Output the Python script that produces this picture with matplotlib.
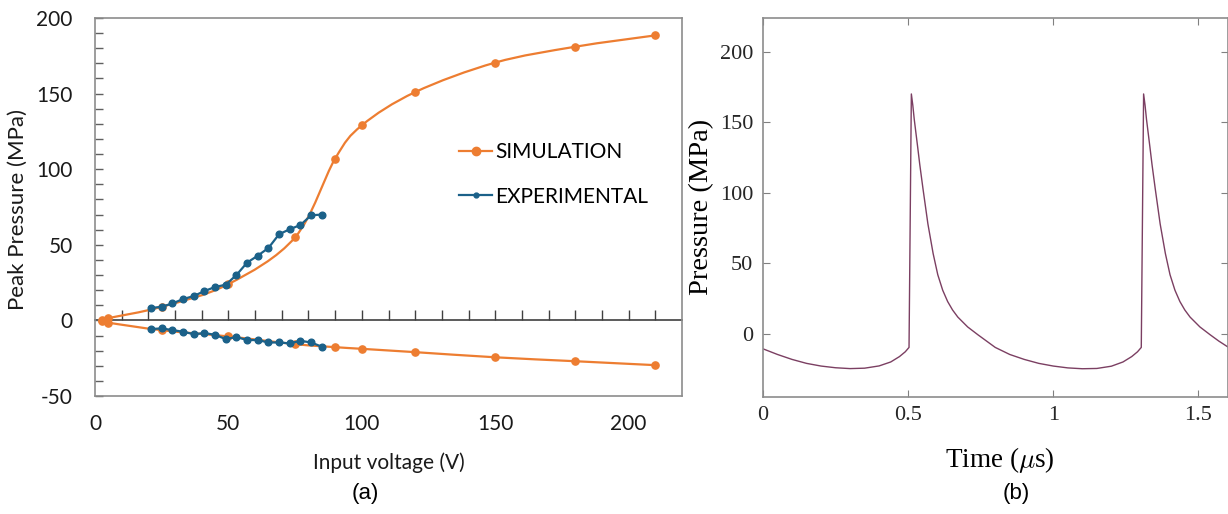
import numpy as np
import matplotlib
matplotlib.use('Agg')
from matplotlib import pyplot as plt
from matplotlib.path import Path
from matplotlib.patches import PathPatch
from matplotlib.lines import Line2D

plt.rcParams['axes.unicode_minus'] = False
plt.rcParams['mathtext.fontset'] = 'cm'

# (a) peak pressure vs input voltage
sim_v = [2.5, 5, 25, 50, 75, 90, 100, 120, 150, 180, 210]
sim_pos = [0.3, 1.5, 9, 24, 55, 107, 129, 151, 170.5, 181, 188.5]
sim_neg = [-0.3, -1.5, -6.5, -10.6, -15.7, -17.7, -18.8, -21, -24.4, -27, -29.6]
exp_v = [21, 25, 29, 33, 37, 41, 45, 49, 53, 57, 61, 65, 69, 73, 77, 81, 85]
exp_pos = [8.2, 9, 11.2, 14.1, 16.1, 19.4, 22.1, 23.6, 30, 38.2, 42.8, 47.9, 57, 60.3, 63.1, 69.5, 70]
exp_neg = [-5.7, -5.3, -6.4, -7.5, -9.1, -8.4, -9.5, -12.4, -11, -13, -13, -14.6, -14.6, -15.2, -13.5, -14.6, -17.4]

# (b) pressure waveform
t_us = [0.000, 0.050, 0.100, 0.150, 0.200, 0.250, 0.300, 0.350, 0.400, 0.440, 0.470, 0.490, 0.503,
        0.511, 0.516, 0.521, 0.527, 0.533, 0.540, 0.551, 0.568, 0.586, 0.602, 0.619, 0.636, 0.653,
        0.671, 0.705, 0.740, 0.770, 0.800,
        0.850, 0.900, 0.950, 1.000, 1.050, 1.100, 1.150, 1.200, 1.240, 1.270, 1.290, 1.303,
        1.311, 1.316, 1.321, 1.327, 1.333, 1.340, 1.351, 1.368, 1.386, 1.402, 1.419, 1.436, 1.453,
        1.471, 1.505, 1.540, 1.570, 1.600]
p_mpa = [-10.5, -14.5, -18.0, -20.8, -22.7, -23.9, -24.5, -24.2, -22.6, -19.8, -16.0, -12.6, -9.5,
         170, 162, 152, 142, 132, 120, 103, 78, 57, 42, 31, 23, 17,
         12, 5, -0.5, -5.0, -9.5,
         -14.5, -18.0, -20.8, -22.7, -24.0, -24.6, -24.4, -22.8, -19.8, -16.0, -12.6, -9.5,
         170, 162, 152, 142, 132, 120, 103, 78, 57, 42, 31, 23, 17,
         12, 5, -0.5, -5.0, -9.0]

ORANGE = '#ED7D31'
BLUE = '#1B6189'


def smooth_path(x, y):
    # excel style smoothed line: cubic bezier through every point
    pts = np.column_stack([x, y]).astype(float)
    n = len(pts)
    verts = [pts[0]]
    codes = [Path.MOVETO]
    for i in range(n - 1):
        p0 = pts[i - 1] if i > 0 else pts[i]
        p3 = pts[i + 2] if i + 2 < n else pts[i + 1]
        verts += [pts[i] + (pts[i + 1] - p0) / 6, pts[i + 1] - (p3 - pts[i]) / 6, pts[i + 1]]
        codes += [Path.CURVE4] * 3
    return Path(verts, codes)


W, H = 1228, 514
fig = plt.figure(figsize=(W / 100, H / 100), dpi=100)

# ---- (a)
sans = ['Lato', 'DejaVu Sans']
ax = fig.add_axes([95 / W, 1 - 396 / H, 587 / W, 378 / H])
ax.set_xlim(0, 220)
ax.set_ylim(-50, 200)
for s in ax.spines.values():
    s.set_color('#8c8c8c')
    s.set_linewidth(1.2)

for yy in (sim_pos, sim_neg):
    ax.add_patch(PathPatch(smooth_path(sim_v, yy), fill=False, edgecolor=ORANGE, lw=1.6, zorder=2))
    ax.plot(sim_v, yy, 'o', color=ORANGE, ms=5.2, zorder=3)
for yy in (exp_pos, exp_neg):
    ax.plot(exp_v, yy, '-o', color=BLUE, lw=1.6, ms=4.8, zorder=4)

ax.set_yticks([-50, 0, 50, 100, 150, 200])
ax.set_yticks(np.arange(-50, 201, 10), minor=True)
ax.tick_params(axis='y', which='both', direction='in', length=6, color='#606060', width=1,
               pad=16, labelsize=15, labelcolor='#1a1a1a')
ax.set_xticks([0, 50, 100, 150, 200])
ax.tick_params(axis='x', length=0, pad=13, labelsize=15, labelcolor='#1a1a1a')
for lab in ax.get_xticklabels() + ax.get_yticklabels():
    lab.set_family(sans)

zero = ax.secondary_xaxis(0, transform=ax.transData)
zero.set_xticks(np.arange(10, 220, 10))
zero.tick_params(direction='in', length=7, color='#404040', width=1, labelbottom=False)
zero.spines['bottom'].set_color('#404040')
zero.spines['bottom'].set_linewidth(1.2)

handles = [Line2D([], [], color=ORANGE, lw=1.6, marker='o', ms=6),
           Line2D([], [], color=BLUE, lw=1.6, marker='o', ms=3.5)]
ax.legend(handles, ['SIMULATION', 'EXPERIMENTAL'], loc='upper left',
          bbox_to_anchor=(0.62, 0.672), frameon=False, borderpad=0, borderaxespad=0,
          handlelength=1.6, handletextpad=0.15, labelspacing=1.18,
          prop={'family': sans, 'size': 15})

fig.text(18 / W, 1 - 210 / H, 'Peak Pressure (MPa)', rotation=90, ha='center', va='center',
         fontsize=16, family=sans, color='#1a1a1a')
fig.text(389 / W, 1 - 463 / H, 'Input voltage (V)', ha='center', va='center',
         fontsize=15, family=sans, color='#1a1a1a')
fig.text(365 / W, 1 - 494 / H, '(a)', ha='center', va='center', fontsize=16,
         family=['Liberation Sans', 'DejaVu Sans'])

# ---- (b)
serif = ['Liberation Serif', 'DejaVu Serif']
bx = fig.add_axes([763 / W, 1 - 396.7 / H, 464.5 / W, 379 / H])
bx.plot(t_us, p_mpa, color='#7b3f62', lw=1.0)
bx.set_xlim(0, 1.6)
bx.set_ylim(-44.4, 224)
for s in bx.spines.values():
    s.set_color('#8c8c8c')
    s.set_linewidth(1.2)
bx.set_xticks([0, 0.5, 1, 1.5])
bx.set_xticklabels(['0', '0.5', '1', '1.5'])
bx.set_yticks([0, 50, 100, 150, 200])
bx.tick_params(direction='in', top=True, right=True, length=5, color='#808080',
               labelsize=16, pad=7, labelcolor='#262626')
for lab in bx.get_xticklabels() + bx.get_yticklabels():
    lab.set_family(serif)

fig.text(702 / W, 1 - 207 / H, 'Pressure (MPa)', rotation=90, ha='center', va='center',
         fontsize=20.5, family=serif)
fig.text(1000 / W, 1 - 460 / H, r'Time ($\mu$s)', ha='center', va='center',
         fontsize=19.5, family=serif)
fig.text(1016 / W, 1 - 494 / H, '(b)', ha='center', va='center', fontsize=16,
         family=['Liberation Sans', 'DejaVu Sans'])

fig.savefig('out.png', dpi=100)
